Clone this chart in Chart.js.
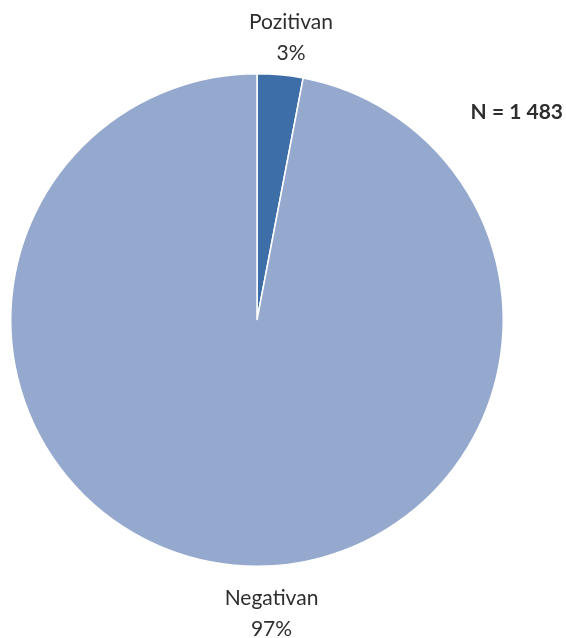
<!DOCTYPE html>
<html>
<head>
<meta charset="utf-8">
<script src="https://cdn.jsdelivr.net/npm/chart.js@4.4.0/dist/chart.umd.min.js"></script>
<style>
  html, body { margin: 0; padding: 0; background: #ffffff; }
  #pie-chart { display: block; }
</style>
</head>
<body>
<canvas id="pie-chart" width="566" height="638"></canvas>
<script>
// data
var categories = ["Pozitivan", "Negativan"];
var shares = [3, 97];
var sliceColors = ["#3e6ea7", "#95a9cf"];
var totalLabel = "N = 1 483";

var fontFamily = "Lato, 'Open Sans', sans-serif";

// draws "name / percent" labels outside each slice, plus the N note
var outsideLabels = {
    id: "outsideLabels",
    afterDatasetsDraw: function (chart) {
        var ctx = chart.ctx;
        var arcs = chart.getDatasetMeta(0).data;
        ctx.save();
        ctx.fillStyle = "#2e2e2e";
        ctx.textAlign = "center";
        ctx.textBaseline = "alphabetic";
        ctx.font = "21px " + fontFamily;
        arcs.forEach(function (arc, i) {
            var p = arc.getProps(["x", "y", "outerRadius"], true);
            var top = i === 0;
            // Excel-style outside-end placement
            var x = p.x + (top ? 34 : 14.5);
            var y1 = top ? p.y - p.outerRadius - 45 : p.y + p.outerRadius + 39;
            ctx.fillText(categories[i], x, y1);
            ctx.fillText(shares[i] + "%", x, y1 + 31);
        });
        ctx.font = "bold 21px " + fontFamily;
        ctx.textAlign = "right";
        ctx.fillText(totalLabel, chart.width - 3, 119);
        ctx.restore();
    }
};

var pieChart = new Chart(document.getElementById("pie-chart").getContext("2d"), {
    type: "pie",
    data: {
        labels: categories,
        datasets: [
            {
                data: shares,
                backgroundColor: sliceColors,
                borderColor: "#ffffff",
                borderWidth: 1.5,
            },
        ],
    },
    options: {
        responsive: false,
        animation: false,
        layout: {
            padding: { left: 10, right: 62, top: 73, bottom: 71 },
        },
        plugins: {
            legend: { display: false },
            tooltip: { enabled: false },
        },
    },
    plugins: [outsideLabels],
});
</script>
</body>
</html>
